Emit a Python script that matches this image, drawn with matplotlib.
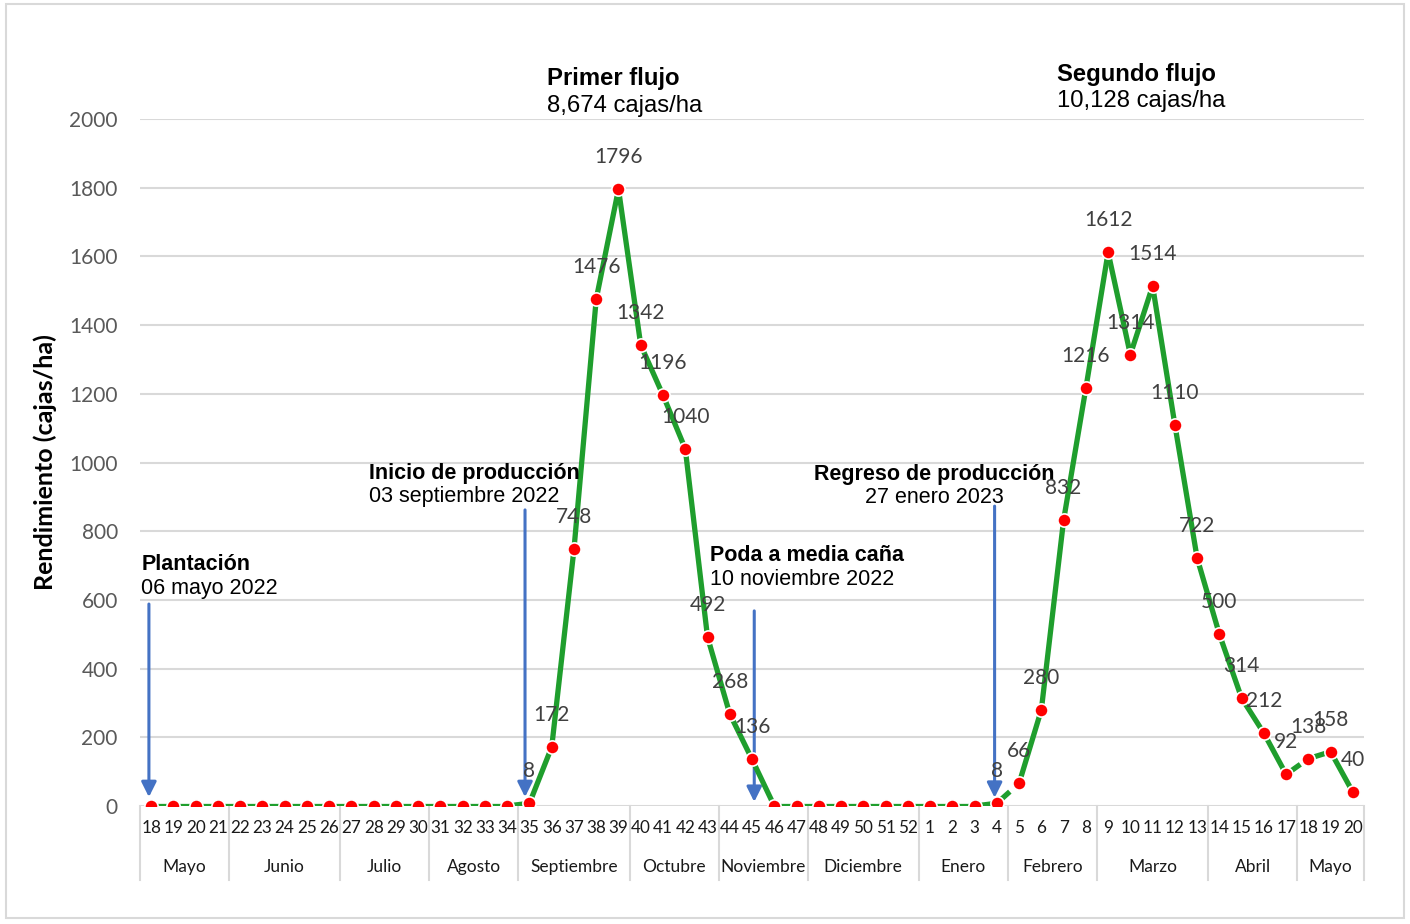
import matplotlib
matplotlib.use('Agg')
import matplotlib.pyplot as plt
from matplotlib.patches import Rectangle

# Semanas (eje x) y rendimiento (cajas/ha)
weeks = [18, 19, 20, 21, 22, 23, 24, 25, 26, 27, 28, 29, 30, 31, 32, 33, 34,
         35, 36, 37, 38, 39, 40, 41, 42, 43, 44, 45, 46, 47, 48, 49, 50, 51, 52,
         1, 2, 3, 4, 5, 6, 7, 8, 9, 10, 11, 12, 13, 14, 15, 16, 17, 18, 19, 20]
yields = [0, 0, 0, 0, 0, 0, 0, 0, 0, 0, 0, 0, 0, 0, 0, 0, 0,
          8, 172, 748, 1476, 1796, 1342, 1196, 1040, 492, 268, 136, 0, 0, 0, 0, 0, 0, 0,
          0, 0, 0, 8, 66, 280, 832, 1216, 1612, 1314, 1514, 1110, 722, 500, 314, 212, 92, 138, 158, 40]

months = ['Mayo', 'Junio', 'Julio', 'Agosto', 'Septiembre', 'Octubre', 'Noviembre',
          'Diciembre', 'Enero', 'Febrero', 'Marzo', 'Abril', 'Mayo']
weeks_per_month = [4, 5, 4, 4, 5, 4, 4, 5, 4, 4, 5, 4, 3]

GREEN = '#1f9e2d'
BLUE = '#4472c4'
GRID = '#d9d9d9'
CAL = 'Lato'
ARIAL = 'Liberation Sans'

fig = plt.figure(figsize=(14.1, 9.24), dpi=100)
fig.patches.append(Rectangle((0.004, 0.006), 0.992, 0.99, transform=fig.transFigure,
                             fill=False, edgecolor=GRID, linewidth=1.5))
ax = fig.add_axes([0.0993, 0.1277, 0.8681, 0.7435])

x = list(range(len(weeks)))

# line: flat / low-slope segments dashed (one dash between markers), the rest solid
for i in range(len(x) - 1):
    dy = abs(yields[i + 1] - yields[i])
    ls = (3.0, (2.1, 2.1)) if dy < 100 else '-'
    ax.plot(x[i:i + 2], yields[i:i + 2], color=GREEN, linewidth=3.8, linestyle=ls,
            solid_capstyle='butt', dash_capstyle='butt', zorder=3)
ax.plot(x, yields, linestyle='none', marker='o', markersize=9.5, markerfacecolor='red',
        markeredgecolor='white', markeredgewidth=1.2, zorder=4)

# data labels (zeros not labelled)
for xi, v in zip(x, yields):
    if v > 0:
        ax.annotate(str(v), (xi, v), xytext=(0, 23), textcoords='offset points',
                    ha='center', va='center', fontsize=15, family=CAL, color='#404040',
                    zorder=5)

ax.set_xlim(-0.5, len(x) - 0.5)
ax.set_ylim(0, 2000)
ax.set_yticks(range(0, 2001, 200))
ax.grid(axis='y', color=GRID, linewidth=1.5)
ax.set_axisbelow(True)
for s in ax.spines.values():
    s.set_visible(False)
ax.tick_params(axis='y', length=0, pad=16, labelsize=15, labelcolor='#595959')
for lab in ax.get_yticklabels():
    lab.set_family(CAL)
ax.set_xticks(x)
ax.set_xticklabels([str(w) for w in weeks], fontsize=12.3, family=CAL, color='#1a1a1a')
ax.tick_params(axis='x', length=0, pad=10)

ax.set_ylabel('Rendimiento (cajas/ha)', fontsize=18, family=CAL, fontweight='bold',
              labelpad=9)

# month groups below the axis
tr = ax.get_xaxis_transform()
start = -0.5
ax.plot([start, start], [0, -0.108], transform=tr, color=GRID, linewidth=1.5, clip_on=False)
for name, n in zip(months, weeks_per_month):
    end = start + n
    ax.plot([end, end], [0, -0.108], transform=tr, color=GRID, linewidth=1.5, clip_on=False)
    ax.text((start + end) / 2, -0.0888, name, transform=tr, ha='center', va='center',
            fontsize=12.5, family=CAL, color='#1a1a1a')
    start = end

# event arrows
arrows = [(-0.1, 588, 26), (16.8, 862, 26), (27.1, 568, 12), (37.9, 873, 24)]
for ax_x, y0, y1 in arrows:
    ax.annotate('', xy=(ax_x, y1), xytext=(ax_x, y0),
                arrowprops=dict(arrowstyle='-|>,head_length=0.9,head_width=0.45',
                                color=BLUE, linewidth=2.2, shrinkA=0, shrinkB=0),
                zorder=2)

# annotations
def note(xp, y_bold, y_reg, bold, reg, ha='left', size=15.5):
    ax.text(xp, y_bold, bold, ha=ha, va='center', fontsize=size, family=ARIAL,
            fontweight='bold', clip_on=False)
    ax.text(xp, y_reg, reg, ha=ha, va='center', fontsize=size, family=ARIAL, clip_on=False)

note(-0.45, 704, 632, 'Plantación', '06 mayo 2022')
note(9.8, 969, 900, 'Inicio de producción', '03 septiembre 2022')
note(25.1, 728, 658, 'Poda a media caña', '10 noviembre 2022')
note(35.2, 964, 897, 'Regreso de producción', '27 enero 2023', ha='center')
note(17.8, 2119, 2038, 'Primer flujo', '8,674 cajas/ha', size=17.2)
note(40.7, 2131, 2052, 'Segundo flujo', '10,128 cajas/ha', size=17.2)

fig.savefig('out.png', dpi=100)
